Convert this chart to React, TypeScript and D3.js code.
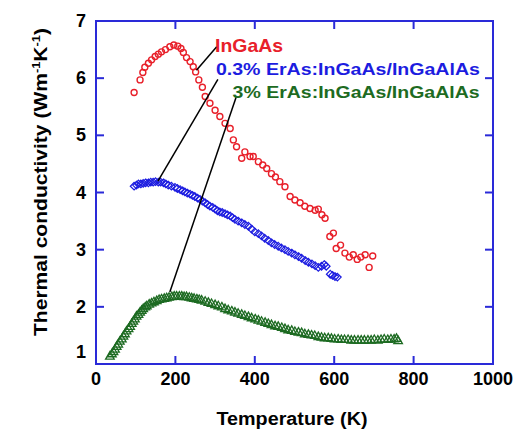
import React from "react";
import * as d3 from "d3";

const xTicks = [0, 200, 400, 600, 800, 1000];
const yTicks = [1, 2, 3, 4, 5, 6, 7];

const inGaAsT = [96,111,118,123,132,140,149,157,165,175,186,196,206,214,220,228,237,245,251,259,268,275,287,300,312,325,338,346,354,367,375,388,396,409,420,430,442,452,463,476,489,501,514,526,539,552,560,569,577,589,598,605,616,627,638,648,658,667,678,688,697];
const inGaAsK = [5.75,5.97,6.10,6.19,6.26,6.32,6.38,6.42,6.46,6.50,6.55,6.58,6.56,6.52,6.45,6.36,6.29,6.20,6.11,5.97,5.84,5.68,5.56,5.44,5.33,5.21,5.12,4.92,4.80,4.60,4.71,4.63,4.63,4.54,4.48,4.42,4.33,4.27,4.19,4.10,3.93,3.87,3.82,3.76,3.72,3.69,3.71,3.61,3.55,3.23,3.29,3.02,3.08,2.94,2.87,2.91,2.83,2.87,2.91,2.69,2.89];

const erAs03T = [96,102,107,113,119,125,132,138,144,150,157,163,170,176,182,190,199,205,212,218,224,230,237,243,249,256,262,268,275,281,287,294,300,306,312,318,325,331,338,344,350,358,367,375,384,392,400,409,417,425,434,442,450,459,467,476,484,493,501,510,518,527,535,544,552,560,568,575,580,590,596,602,608];
const erAs03K = [4.11,4.13,4.15,4.15,4.16,4.17,4.17,4.18,4.18,4.19,4.18,4.18,4.17,4.15,4.13,4.11,4.09,4.07,4.05,4.03,4.01,3.99,3.97,3.95,3.93,3.90,3.88,3.85,3.82,3.79,3.76,3.74,3.71,3.68,3.66,3.65,3.63,3.61,3.59,3.56,3.53,3.50,3.47,3.44,3.41,3.36,3.31,3.28,3.24,3.20,3.16,3.12,3.09,3.06,3.03,3.00,2.97,2.94,2.91,2.88,2.85,2.81,2.78,2.75,2.72,2.69,2.71,2.74,2.71,2.57,2.55,2.53,2.52];

const erAs3T = [35,40,44,48,52,56,60,65,69,73,77,82,86,90,94,98,102,107,111,115,119,124,128,134,140,146,153,159,165,172,178,184,191,197,203,210,216,222,228,235,241,247,254,260,266,275,283,291,300,308,317,325,333,342,350,358,367,375,384,392,401,409,417,426,434,442,451,459,468,476,484,493,501,510,518,526,535,543,551,560,568,576,585,593,601,610,618,626,635,643,651,660,668,676,685,693,701,710,718,726,735,743,751,757,761];
const erAs3K = [1.13,1.17,1.21,1.25,1.30,1.34,1.39,1.43,1.48,1.52,1.57,1.61,1.65,1.70,1.74,1.78,1.83,1.86,1.90,1.93,1.96,1.99,2.01,2.04,2.06,2.08,2.10,2.12,2.13,2.14,2.15,2.16,2.17,2.18,2.18,2.18,2.18,2.17,2.17,2.16,2.15,2.14,2.13,2.12,2.11,2.09,2.07,2.05,2.03,2.01,1.99,1.96,1.94,1.92,1.90,1.88,1.86,1.84,1.82,1.80,1.78,1.76,1.74,1.72,1.70,1.68,1.66,1.65,1.63,1.61,1.59,1.58,1.56,1.55,1.54,1.52,1.51,1.50,1.49,1.47,1.46,1.45,1.45,1.44,1.43,1.43,1.42,1.42,1.42,1.41,1.41,1.41,1.41,1.41,1.41,1.41,1.42,1.41,1.42,1.43,1.42,1.43,1.43,1.44,1.40];

const labels = ["InGaAs", "0.3% ErAs:InGaAs/InGaAlAs", "3% ErAs:InGaAs/InGaAlAs"];
const labelAnchorT = [300, 302, 344];
const labelAnchorK = [6.46, 6.05, 5.66];
const leaderFromT = [304, 307, 354];
const leaderFromK = [6.55, 5.98, 5.69];
const leaderToT = [253, 156, 186];
const leaderToK = [6.14, 4.20, 2.26];

const RED = "#e8202a";
const BLUE = "#1c1ce0";
const GREEN = "#1d6b22";
const FRAME = "#2a2ad8";
const FONT = "'Liberation Sans', Arial, sans-serif";

export default function App() {
  const x = d3.scaleLinear().domain([0, 1000]).range([96, 493]);
  const y = d3.scaleLinear().domain([1, 7]).range([364, 21]);
  const tickLen = 8;
  const colors = [RED, BLUE, GREEN];
  const labelLen = [68, 264, 247];

  const diamond = (cx: number, cy: number, r: number) =>
    `M${cx},${cy - r}L${cx + r},${cy}L${cx},${cy + r}L${cx - r},${cy}Z`;
  const tri = d3.symbol().type(d3.symbolTriangle).size(32);

  return (
    <svg
      width={514}
      height={429}
      style={{ position: "absolute", left: 0, top: 0, background: "#fff" }}
      fontFamily={FONT}
    >
      <rect x={0} y={0} width={514} height={429} fill="#fff" />
      {erAs3T.map((t, i) => (
        <path
          key={"g" + i}
          d={tri() as string}
          transform={`translate(${x(t)},${y(erAs3K[i])})`}
          fill="none"
          stroke={GREEN}
          strokeWidth={1.3}
        />
      ))}
      {erAs03T.map((t, i) => (
        <path
          key={"b" + i}
          d={diamond(x(t), y(erAs03K[i]), 3.8)}
          fill="none"
          stroke={BLUE}
          strokeWidth={1.2}
        />
      ))}
      {inGaAsT.map((t, i) => (
        <circle
          key={"r" + i}
          cx={x(t)}
          cy={y(inGaAsK[i])}
          r={3}
          fill="none"
          stroke={RED}
          strokeWidth={1.4}
        />
      ))}
      {leaderFromT.map((t, i) => (
        <line
          key={"l" + i}
          x1={x(t)}
          y1={y(leaderFromK[i])}
          x2={x(leaderToT[i])}
          y2={y(leaderToK[i])}
          stroke="#000"
          strokeWidth={1.5}
        />
      ))}
      {labels.map((s, i) => (
        <text
          key={"t" + i}
          x={x(labelAnchorT[i])}
          y={y(labelAnchorK[i])}
          fill={colors[i]}
          fontWeight="bold"
          fontSize={i === 0 ? 19 : 17}
          textLength={labelLen[i]}
          lengthAdjust="spacingAndGlyphs"
        >
          {s}
        </text>
      ))}
      <rect
        x={x(0)}
        y={y(7)}
        width={x(1000) - x(0)}
        height={y(1) - y(7)}
        fill="none"
        stroke={FRAME}
        strokeWidth={2}
      />
      {xTicks.slice(1, -1).map((t) => (
        <g key={"xt" + t} stroke={FRAME} strokeWidth={2}>
          <line x1={x(t)} x2={x(t)} y1={y(1)} y2={y(1) - tickLen} />
          <line x1={x(t)} x2={x(t)} y1={y(7)} y2={y(7) + tickLen} />
        </g>
      ))}
      {yTicks.slice(1, -1).map((v) => (
        <g key={"yt" + v} stroke={FRAME} strokeWidth={2}>
          <line x1={x(0)} x2={x(0) + tickLen} y1={y(v)} y2={y(v)} />
          <line x1={x(1000)} x2={x(1000) - tickLen} y1={y(v)} y2={y(v)} />
        </g>
      ))}
      {xTicks.map((t) => (
        <text
          key={"xl" + t}
          x={x(t)}
          y={y(1) + 21}
          textAnchor="middle"
          fontWeight="bold"
          fontSize={18}
          fill="#000"
        >
          {t}
        </text>
      ))}
      {yTicks.map((v) => (
        <text
          key={"yl" + v}
          x={86}
          y={y(v) + (v === 1 ? -6 : 6)}
          textAnchor="end"
          fontWeight="bold"
          fontSize={18}
          fill="#000"
        >
          {v}
        </text>
      ))}
      <text
        x={292}
        y={425}
        textAnchor="middle"
        fontWeight="bold"
        fontSize={18}
        fill="#000"
        textLength={151}
        lengthAdjust="spacingAndGlyphs"
      >
        Temperature (K)
      </text>
      <text
        transform="translate(47,182) rotate(-90)"
        textAnchor="middle"
        fontWeight="bold"
        fontSize={18}
        fill="#000"
        textLength={308}
        lengthAdjust="spacingAndGlyphs"
      >
        Thermal conductivity (Wm
        <tspan fontSize={11} dy={-7}>-1</tspan>
        <tspan dy={7}>K</tspan>
        <tspan fontSize={11} dy={-7}>-1</tspan>
        <tspan dy={7}>)</tspan>
      </text>
    </svg>
  );
}
